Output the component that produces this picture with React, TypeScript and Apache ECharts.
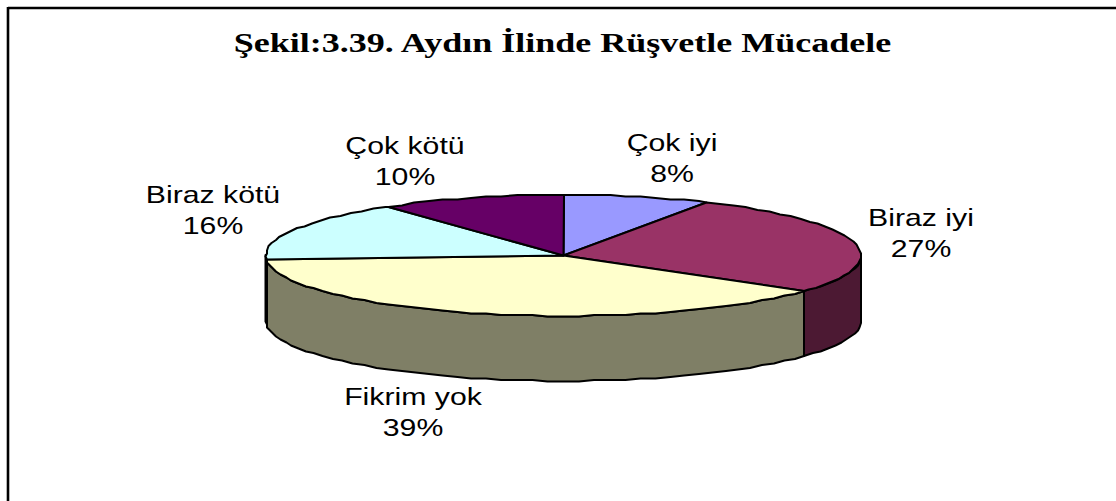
import React, { useEffect, useRef } from "react";
import * as echarts from "echarts";

const TITLE = "Şekil:3.39. Aydın İlinde Rüşvetle Mücadele";
const CATEGORIES = ["Çok iyi", "Biraz iyi", "Fikrim yok", "Biraz kötü", "Çok kötü"];
const VALUES = [8, 27, 39, 16, 10];
const TOP_COLORS = ["#9999FF", "#993366", "#FFFFCC", "#CCFFFF", "#660066"];
const SIDE_COLORS = ["#4C4C7F", "#4C1933", "#7F7F66", "#667F7F", "#330033"];
const LABEL_CENTERS = [[672, 158], [921, 233], [413, 412], [213, 210], [405, 161]];

const CX = 563.5, CY = 255.5, RX = 297.5, RY = 60.5, DEPTH = 65;
const TOTAL = VALUES.reduce((a, b) => a + b, 0);
const STROKE = "#000";
const LW = 2;
const GRID = 1.5;

const pt = (deg: number, dy = 0): [number, number] => {
  const r = (deg * Math.PI) / 180;
  const x = CX + RX * Math.sin(r);
  const y = CY - RY * Math.cos(r);
  return [Math.round(x / GRID) * GRID, Math.round(y / GRID) * GRID + dy];
};
const arc = (a: number, b: number, dy = 0) => {
  const out: [number, number][] = [];
  const step = 3;
  for (let d = a; d < b; d += step) out.push(pt(d, dy));
  out.push(pt(b, dy));
  return out;
};

export default function App() {
  const ref = useRef<HTMLDivElement>(null);
  useEffect(() => {
    document.body.style.margin = "0";
    const chart = echarts.init(ref.current!, undefined, { renderer: "svg" });
    const renderItem = (params: any, api: any) => {
      const i = params.dataIndex;
      const value = api.value(0);
      let before = 0;
      for (let k = 0; k < i; k++) before += VALUES[k];
      const a0 = (before / TOTAL) * 360;
      const a1 = ((before + value) / TOTAL) * 360;
      const children: any[] = [];
      const s0 = Math.max(a0, 90), s1 = Math.min(a1, 270);
      if (s1 > s0) {
        const upper = arc(s0, s1);
        const lower = arc(s0, s1, DEPTH).reverse();
        children.push({
          type: "polygon",
          shape: { points: [...upper, ...lower] },
          style: { fill: SIDE_COLORS[i], stroke: STROKE, lineWidth: LW, lineJoin: "round" },
        });
      }
      children.push({
        type: "polygon",
        shape: { points: [[CX, CY], ...arc(a0, a1)] },
        style: { fill: TOP_COLORS[i], stroke: STROKE, lineWidth: LW, lineJoin: "round" },
      });
      const [lx, ly] = LABEL_CENTERS[i];
      children.push({
        type: "text",
        x: lx,
        y: ly,
        scaleX: 1.26,
        style: {
          text: `${CATEGORIES[i]}\n${value}%`,
          fontFamily: "Liberation Sans",
          fontSize: 24,
          lineHeight: 30.5,
          fill: "#000",
          align: "center",
          verticalAlign: "middle",
        },
      });
      return { type: "group", children };
    };
    chart.setOption({
      animation: false,
      backgroundColor: "#fff",
      graphic: [
        { type: "line", shape: { x1: 8, y1: 8, x2: 1116, y2: 8 }, style: { stroke: "#000", lineWidth: 2.4 } },
        { type: "line", shape: { x1: 8, y1: 7, x2: 8, y2: 501 }, style: { stroke: "#000", lineWidth: 2.6 } },
        {
          type: "text",
          x: 562.5,
          y: 43,
          scaleX: 1.334,
          style: {
            text: TITLE,
            fontFamily: "Liberation Serif",
            fontWeight: "bold",
            fontSize: 27,
            fill: "#000",
            align: "center",
            verticalAlign: "middle",
          },
        },
      ],
      series: [
        {
          type: "custom",
          coordinateSystem: "none",
          silent: true,
          clip: false,
          data: VALUES.map((v, i) => ({ name: CATEGORIES[i], value: [v] })),
          renderItem,
        },
      ],
    });
    return () => chart.dispose();
  }, []);
  return <div ref={ref} style={{ width: 1116, height: 501 }} />;
}
